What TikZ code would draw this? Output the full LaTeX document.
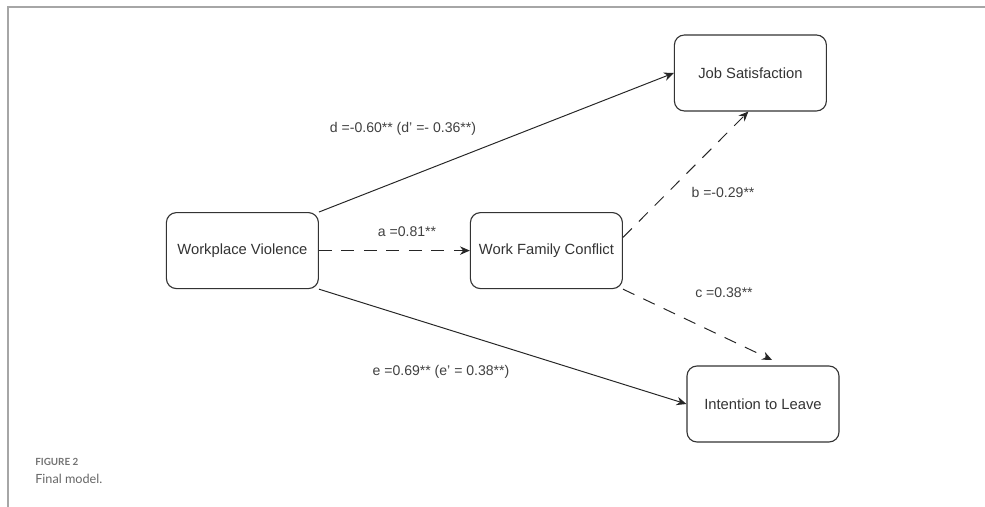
\documentclass[tikz,border=0pt]{standalone}
\usepackage{fontspec}
\setmainfont{Liberation Sans}
\newfontfamily\capfont{Lato}
\usepackage{tikz}
\usetikzlibrary{arrows.meta}

\begin{document}
\begin{tikzpicture}[
  varbox/.style={draw=black!80, line width=0.8pt, rounded corners=0.25cm, minimum width=3.8cm, minimum height=1.9cm, text=black!80, font=\fontsize{10.5}{12}\selectfont},
  path/.style={-{Stealth[length=7pt,width=6pt]}, line width=0.7pt, black!85},
  mediated/.style={path, dash pattern=on 9pt off 7pt},
  coef/.style={text=black!75, font=\fontsize{10}{12}\selectfont}
]
\useasboundingbox (0,0) rectangle (24.625,12.675);
\draw[gray!70, line width=1.4pt] (0.2,0) -- (0.2,12.51) -- (24.625,12.51);
\node[varbox] at (6.06,6.41) (wv) {Workplace Violence};
\node[varbox] at (13.66,6.41) (wfc) {Work Family Conflict};
\node[varbox] at (18.76,10.85) (js) {Job Satisfaction};
\node[varbox] at (19.075,2.575) (il) {Intention to Leave};
\coordinate (cend) at (19.3,3.675);
\draw[path] (wv.north east) -- (js.west);
\draw[mediated] (wv.east) -- (wfc.west);
\draw[mediated] ([yshift=0.33cm]wfc.east) -- ([xshift=-0.05cm]js.south);
\draw[mediated] (wfc.south east) -- (cend);
\draw[path] (wv.south east) -- (il.west);
\node[coef] at (10.075,9.45) (dlab) {d =-0.60** (d' =- 0.36**)};
\node[coef] at (10.175,6.875) (alab) {a =0.81**};
\node[coef] at (18.075,7.875) (blab) {b =-0.29**};
\node[coef] at (18.1,5.35) (clab) {c =0.38**};
\node[coef] at (11.025,3.375) (elab) {e =0.69** (e' = 0.38**)};
\node[anchor=west, inner sep=0pt, text=black!55, font=\capfont\bfseries\fontsize{7}{8}\selectfont] at (0.875,1.125) (fignum) {FIGURE 2};
\node[anchor=west, inner sep=0pt, text=black!60, font=\capfont\fontsize{9}{10}\selectfont] at (0.875,0.7) (figcap) {Final model.};
\end{tikzpicture}
\end{document}
